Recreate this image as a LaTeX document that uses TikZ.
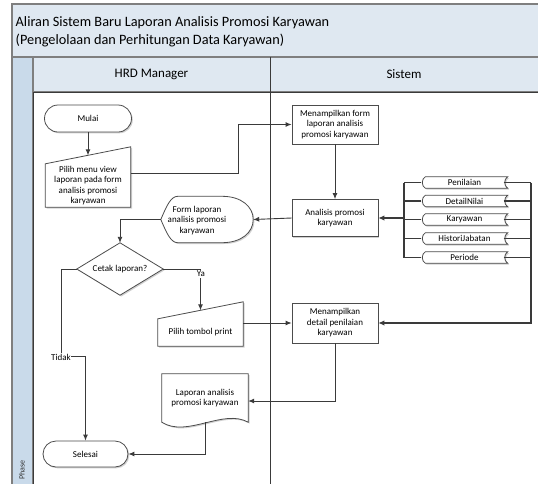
\documentclass[tikz,border=0pt]{standalone}
\usepackage{fontspec}
\setmainfont{Carlito}
\usetikzlibrary{arrows.meta,calc}
\definecolor{hdr}{HTML}{DFE8F1}
\definecolor{phasecol}{HTML}{C9DAEA}
\definecolor{frame}{HTML}{7F7F7F}
\definecolor{ink}{HTML}{3A3A3A}
\pgfdeclarelayer{lanes}
\pgfdeclarelayer{shapes}
\pgfsetlayers{lanes,shapes,main}
\begin{document}
\begin{tikzpicture}[x=1pt,y=-1pt,
  conn/.style={draw=ink, line width=0.9pt, -{Latex[length=6pt,width=5pt]}},
  thickconn/.style={draw=ink, line width=1.7pt, -{Latex[length=6pt,width=5.5pt]}},
  plain/.style={draw=ink, line width=0.9pt},
  bus/.style={draw=ink, line width=1.1pt},
  shp/.style={draw=black!70, line width=0.8pt, fill=white},
  shadowed/.style={preaction={fill=black!18, draw=none, transform canvas={shift={(1.3pt,-1.3pt)}}}},
  box/.style={rectangle, inner sep=0pt, align=center, font=\fontsize{9}{10.5}\selectfont, text=black},
  storebox/.style={box, minimum width=86pt, minimum height=11pt},
  lanetext/.style={font=\fontsize{13}{15}\selectfont, text=black},
  titletext/.style={anchor=west, inner sep=0pt, font=\fontsize{14.3}{17}\selectfont, text=black}]
\useasboundingbox (0,0) rectangle (538,483);
\clip (0,0) rectangle (538,483);

% ---------- swimlane frame ----------
\begin{pgfonlayer}{lanes}
\fill[white] (0,0) rectangle (538,483);
\filldraw[fill=hdr, draw=frame, line width=1.1pt] (12,4) rectangle (545,57);
\filldraw[fill=hdr, draw=frame, line width=1.1pt] (33,57) rectangle (545,92);
\filldraw[fill=phasecol, draw=frame, line width=1.1pt] (12,57) rectangle (33,495);
\draw[ink, line width=0.9pt] (33,92) -- (33,495);
\draw[ink, line width=0.9pt] (270,57) -- (270,495);
\draw[ink, line width=0.9pt] (33,92) -- (545,92);
\end{pgfonlayer}

\node[titletext] (t1) at (15.5,23) {Aliran Sistem Baru Laporan Analisis Promosi Karyawan};
\node[titletext] (t2) at (15.5,40) {(Pengelolaan dan Perhitungan Data Karyawan)};
\node[lanetext] (hrd) at (151.5,74.5) {HRD Manager};
\node[lanetext] (sis) at (404,74.5) {Sistem};
\node[rotate=90, font=\fontsize{8}{9}\selectfont, text=black!80] (ph) at (22,470) {Phase};

% ---------- nodes ----------
\node[box, shp, shadowed, rounded corners=13.5pt, minimum width=87pt, minimum height=27pt] (mulai) at (88,118.5) {Mulai};
\node[box, minimum width=85pt, minimum height=43pt] (pilih) at (88,185.5) {Pilih menu view\\laporan pada form\\analisis promosi\\karyawan};
\node[box, shp, shadowed, minimum width=86pt, minimum height=39pt] (mform) at (335,124.5) {Menampilkan form\\laporan analisis\\promosi karyawan};
\node[box, shp, shadowed, minimum width=86pt, minimum height=37pt] (ana) at (335,218) {Analisis promosi\\karyawan};
\node[box, minimum width=92pt, minimum height=46pt] (fl) at (207,219.5) {};
\node[box] (fltext) at (197,220.5) {Form laporan\\analisis promosi\\karyawan};
\node[box, minimum width=86pt, minimum height=52pt] (dia) at (120,269) {Cetak laporan?};
\node[box, minimum width=85pt, minimum height=27pt] (print) at (200.5,332.5) {Pilih tombol print};
\node[box, shp, shadowed, minimum width=86pt, minimum height=40pt] (mdet) at (335,323) {Menampilkan\\detail penilaian\\karyawan};
\node[box, minimum width=86pt, minimum height=48pt] (lap) at (205,398) {Laporan analisis\\promosi karyawan};
\node[box, shp, shadowed, rounded corners=13pt, minimum width=85pt, minimum height=26pt] (sel) at (85.5,454) {Selesai};

\node[storebox] (s1) at (464.5,182.5) {Penilaian};
\node[storebox] (s2) at (464.5,201) {DetailNilai};
\node[storebox] (s3) at (464.5,219.5) {Karyawan};
\node[storebox] (s4) at (464.5,238.5) {HistoriJabatan};
\node[storebox] (s5) at (464.5,257.5) {Periode};

% ---------- custom outlines ----------
\begin{pgfonlayer}{shapes}
\draw[shp, shadowed] (pilih.south west) -- (pilih.north west) -- ($(pilih.north east)+(0,-17)$) -- (pilih.south east) -- cycle;
\draw[shp, shadowed] (print.south west) -- (print.north west) -- ($(print.north east)+(0,-17)$) -- (print.south east) -- cycle;
\draw[shp, shadowed] (dia.north) -- (dia.east) -- (dia.south) -- (dia.west) -- cycle;
\draw[shp, shadowed] (fl.west) .. controls ($(fl.west)+(6,-14)$) and ($(fl.north west)+(10,0)$) .. ($(fl.north west)+(17,0)$)
  -- ($(fl.north east)+(-31,0)$) .. controls ($(fl.north east)+(-12,0)$) and ($(fl.east)+(0,-13)$) .. (fl.east)
  .. controls ($(fl.east)+(0,13)$) and ($(fl.south east)+(-12,0)$) .. ($(fl.south east)+(-31,0)$)
  -- ($(fl.south west)+(17,0)$) .. controls ($(fl.south west)+(10,0)$) and ($(fl.west)+(6,14)$) .. (fl.west) -- cycle;
\draw[shp, shadowed] (lap.south east) -- (lap.north east) -- (lap.north west) -- (lap.south west)
  .. controls ($(lap.south west)+(25,16)$) and ($(lap.south east)+(-25,-14)$) .. (lap.south east) -- cycle;
\foreach \s in {s1,s2,s3,s4,s5}{
  \draw[shp, shadowed] ($(\s.north west)+(4,0)$) -- (\s.north east)
    .. controls ($(\s.north east)+(-4,2)$) and ($(\s.south east)+(-4,-2)$) .. (\s.south east)
    -- ($(\s.south west)+(4,0)$)
    .. controls ($(\s.south west)+(0,-2)$) and ($(\s.north west)+(0,2)$) .. ($(\s.north west)+(4,0)$) -- cycle;
}
\end{pgfonlayer}

% ---------- connectors ----------
\coordinate (lbus) at (404,0);
\coordinate (rbus) at (531,0);
\coordinate (tidakc) at (61,356);

\draw[conn] (mulai.south) -- ($(pilih.north)+(0,-8.5)$);
\draw[conn] ($(pilih.east)+(0,-12.5)$) -- ++(108,0) |- (mform.west);
\draw[conn] (mform.south) -- (ana.north);
\draw[conn] (ana.west) -- (fl.east);
\draw[conn] (fl.west) -| (dia.north);
\draw[conn] (dia.east) -| ($(print.north)+(0,-8.5)$);
\draw[conn] ($(print.east)+(0,-9.5)$) -- (mdet.west);
\draw[conn] (mdet.south) |- ($(lap.east)+(0,3)$);
\draw[conn] (lap.south) |- (sel.east);
\draw[conn] (dia.west) -| (tidakc) -| (sel.north);

\foreach \s in {s1,s2,s3,s4,s5}{
  \draw[bus] (\s.west) -- (lbus |- \s.west);
  \draw[bus] ($(\s.east)+(-4,0)$) -- (rbus |- \s.east);
}
\draw[bus] (lbus |- s1.west) -- (lbus |- s5.west);
\draw[thickconn] (lbus |- ana.east) -- (ana.east);
\draw[thickconn] (rbus |- s1.east) |- (mdet.east);

\node[box, fill=white, inner sep=0.6pt] (ya) at (201,274) {Ya};
\node[box, fill=white, inner sep=0.6pt] (tidak) at (61,357) {Tidak};
\end{tikzpicture}
\end{document}
